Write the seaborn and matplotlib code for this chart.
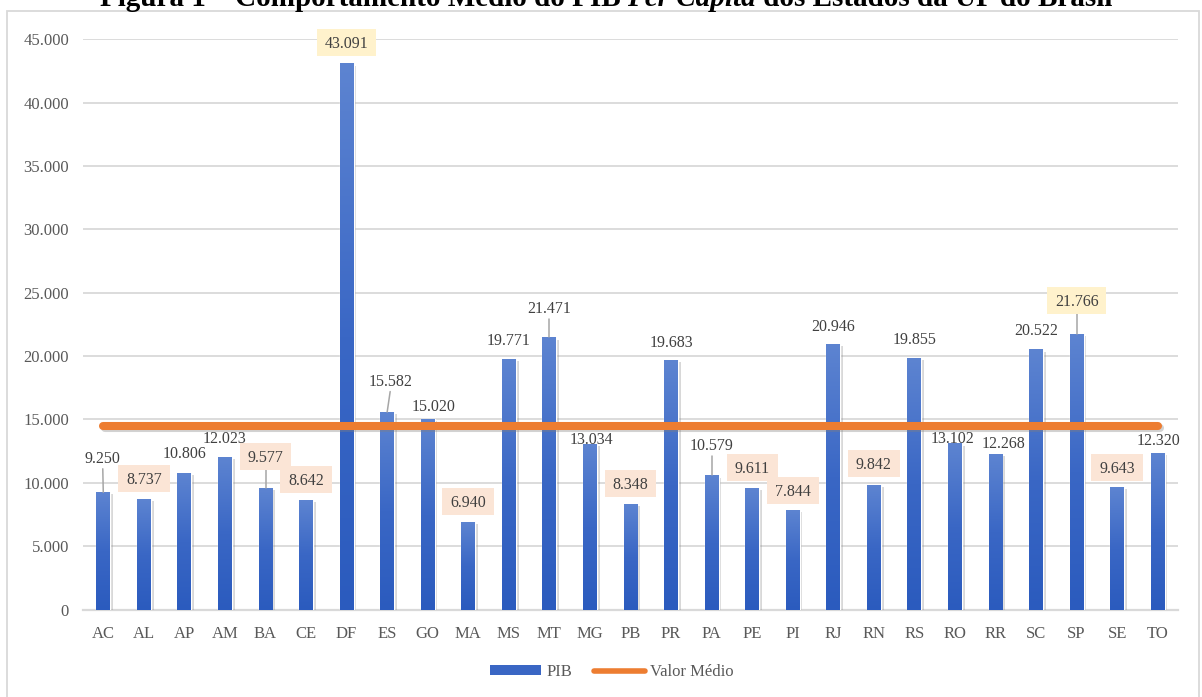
import numpy as np
import pandas as pd
import seaborn as sns
import matplotlib
matplotlib.use("Agg")
import matplotlib.pyplot as plt
from matplotlib import transforms as mtransforms
from matplotlib import patheffects as pe
from matplotlib.patches import Rectangle, Patch
from matplotlib.lines import Line2D
from matplotlib.colors import LinearSegmentedColormap

# PIB per capita médio por UF (R$)
states = ["AC", "AL", "AP", "AM", "BA", "CE", "DF", "ES", "GO", "MA", "MS", "MT", "MG", "PB",
          "PR", "PA", "PE", "PI", "RJ", "RN", "RS", "RO", "RR", "SC", "SP", "SE", "TO"]
pib = [9250, 8737, 10806, 12023, 9577, 8642, 43091, 15582, 15020, 6940, 19771, 21471, 13034, 8348,
       19683, 10579, 9611, 7844, 20946, 9842, 19855, 13102, 12268, 20522, 21766, 9643, 12320]
yticks = [0, 5000, 10000, 15000, 20000, 25000, 30000, 35000, 40000, 45000]

# label look: "plain", "low" (peach box) or "high" (yellow box)
label_kind = ["plain", "low", "plain", "plain", "low", "low", "high", "plain", "plain", "low",
              "plain", "plain", "plain", "low", "plain", "plain", "low", "low", "plain", "low",
              "plain", "plain", "plain", "plain", "high", "low", "plain"]
# label offsets from the top of each bar, in pixels
label_dx = [-0.5, 0, 0, 0, 0, 0, 0, 3, 5.5, 0, 0, 0, 2, 0, 0, 0, 0, 0, 0, 0, 0, -2, 8, 0, 0, 0, 0.5]
label_dy = [35, 20, 20.5, 20, 32, 20.5, 21, 32, 14, 20.5, 19, 29.5, 5.5, 20, 19, 30.5, 20, 20,
            19, 21, 19, 6, 12, 19.6, 33, 20, 13.5]
leader = [True, False, False, False, True, False, False, True, False, False, False, True, False,
          False, False, True, False, False, False, False, False, False, False, False, True, False, False]

sns.set_theme(style="white")
plt.rcParams["font.family"] = ["Liberation Serif", "DejaVu Serif"]

W, H = 1202, 697
fig = plt.figure(figsize=(W / 100, H / 100), dpi=100)
fig.patch.set_facecolor("white")
ax = fig.add_axes([83 / W, 1 - 609.5 / H, 1095 / W, 570.2 / H])

df = pd.DataFrame({"UF": states, "PIB": pib})
sns.barplot(data=df, x="UF", y="PIB", color="#3D69C6", saturation=1, width=0.345,
            ax=ax, zorder=3)
bars = list(ax.patches)

mean_val = float(np.mean(pib))
xpos = np.arange(len(states))
sns.lineplot(x=xpos, y=np.full(len(states), mean_val), color="#ED7D31", lw=5.8,
             solid_capstyle="round", ax=ax, zorder=5, legend=False,
             path_effects=[pe.SimpleLineShadow(offset=(1.5, -1.5), shadow_color="#7f7f7f", alpha=0.35),
                           pe.Normal()])

ax.set_xlim(-0.5, len(states) - 0.5)
ax.set_ylim(0, 45000)
ax.autoscale(False)

# vertical gradient fill for every bar
cmap = LinearSegmentedColormap.from_list("pib", ["#2B5BBE", "#3A67C5", "#5D84D1"])
grad = np.linspace(0, 1, 256).reshape(-1, 1)
for bar in bars:
    x0, w, h = bar.get_x(), bar.get_width(), bar.get_height()
    im = ax.imshow(grad, extent=[x0, x0 + w, 0, h], origin="lower", cmap=cmap,
                   aspect="auto", interpolation="bicubic", zorder=3.1)
    im.set_clip_path(bar)
    bar.set_path_effects([pe.SimplePatchShadow(offset=(2, -1.5), shadow_rgbFace="#808080", alpha=0.3),
                          pe.Normal()])
ax.set_xlim(-0.5, len(states) - 0.5)
ax.set_ylim(0, 45000)

ax.set_yticks(yticks)
ax.set_yticklabels([f"{t:,}".replace(",", ".") for t in yticks])
ax.set_xlabel("")
ax.set_ylabel("")
ax.grid(axis="y", color="#D9D9D9", lw=1.3)
ax.grid(axis="x", visible=False)
ax.set_axisbelow(True)
for side in ["top", "right", "left"]:
    ax.spines[side].set_visible(False)
ax.spines["bottom"].set_color("#D9D9D9")
ax.spines["bottom"].set_linewidth(1.6)
ax.tick_params(axis="both", length=0, labelsize=12, labelcolor="#595959", pad=10)
ax.tick_params(axis="x", pad=12)

# value labels
fig.canvas.draw()
renderer = fig.canvas.get_renderer()
box_fc = {"low": "#FBE5D6", "high": "#FFF2CC"}
for i, v in enumerate(pib):
    base = mtransforms.Affine2D() + mtransforms.ScaledTranslation(i, v, ax.transData)
    dx, dy, kind = label_dx[i], label_dy[i], label_kind[i]
    txt = f"{v:,}".replace(",", ".")
    t = ax.text(dx, dy - 1.5, txt, transform=base, ha="center", va="center",
                fontsize=11.5, color="#404040", zorder=8, clip_on=False)
    if kind in box_fc:
        bw = t.get_window_extent(renderer).width + 16
        ax.add_patch(Rectangle((dx - bw / 2, dy - 13.5), bw, 27, transform=base,
                               facecolor=box_fc[kind], edgecolor="none", zorder=7, clip_on=False))
    if leader[i]:
        gap = 13.5 if kind in box_fc else 11.5
        ax.add_line(Line2D([dx, 0], [dy - gap, 0], transform=base, color="#A6A6A6",
                           lw=1.1, zorder=6, clip_on=False))

# legend
handles = [Patch(facecolor="#3A66C4", edgecolor="none", label="PIB"),
           Line2D([], [], color="#ED7D31", lw=4, solid_capstyle="round", label="Valor Médio")]
fig.legend(handles=handles, loc="center", bbox_to_anchor=(0.509, 1 - 672 / H), ncol=2,
           frameon=False, fontsize=12, handlelength=3.1, handleheight=0.55,
           handletextpad=0.3, columnspacing=1.3, labelcolor="#595959")

# chart border
fig.add_artist(Rectangle((7 / W, -0.01), (1199 - 7) / W, (H - 11) / H + 0.01,
                         transform=fig.transFigure, fill=False, edgecolor="#D9D9D9", lw=1.3))

# title, with "Per Capita" in italics
parts = [("Figura 1 – Comportamento Médio do PIB ", "normal"),
         ("Per Capita", "italic"),
         (" dos Estados da UF do Brasil", "normal")]
texts = []
for s, style in parts:
    texts.append(fig.text(0, 1 - 6 / H, s, fontsize=21, fontweight="bold", fontstyle=style,
                          color="black", ha="left", va="baseline"))
fig.canvas.draw()
widths = [t.get_window_extent(renderer).width for t in texts]
xcur = 606 - sum(widths) / 2
for t, w in zip(texts, widths):
    t.set_x(xcur / W)
    xcur += w

fig.savefig("out.png", dpi=100, facecolor="white")
